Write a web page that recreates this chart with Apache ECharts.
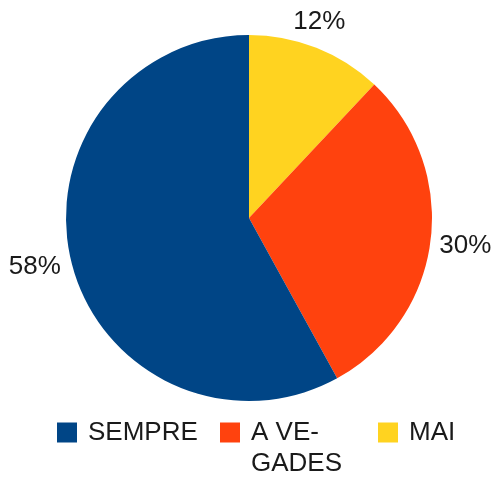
<!DOCTYPE html>
<html>
<head>
<meta charset="utf-8">
<script src="https://cdn.jsdelivr.net/npm/echarts@6/dist/echarts.min.js"></script>
<style>html,body{margin:0;padding:0;background:#fff;}#c{width:496px;height:477px;}</style>
</head>
<body>
<div id="c"></div>
<script>
const categories = ['MAI', 'A VEGADES', 'SEMPRE'];
const values = [12, 30, 58];
const legendOrder = ['SEMPRE', 'A VEGADES', 'MAI'];
const legendLabels = {'SEMPRE': 'SEMPRE', 'A VEGADES': ' \nA VE-\nGADES', 'MAI': 'MAI'};
const colors = ['#ffd320', '#ff420e', '#004586'];
const labelOffsets = {'MAI': [-10, 7], 'A VEGADES': [0, 1], 'SEMPRE': [-3, -5]};

const chart = echarts.init(document.getElementById('c'), null, {renderer: 'canvas'});
const data = categories.map((n, i) => ({name: n, value: values[i], itemStyle: {color: colors[i]}}));
const FONT = '"Liberation Sans", Arial, sans-serif';
const legendWidths = {'SEMPRE': 132, 'A VEGADES': 127, 'MAI': 60};
const option = {
  animation: false,
  backgroundColor: '#ffffff',
  legend: {
    orient: 'horizontal',
    left: 57,
    top: 386,
    padding: 0,
    itemGap: 0,
    itemWidth: 20,
    itemHeight: 20,
    icon: 'rect',
    selectedMode: false,
    textStyle: {fontFamily: FONT, fontSize: 26, color: '#1a1a1a', lineHeight: 31, padding: [0, 0, 0, 6]},
    data: legendOrder.map(n => ({name: n, textStyle: {width: legendWidths[n]}})),
    formatter: function (name) { return legendLabels[name]; }
  },
  series: [
    {
      type: 'pie',
      center: [249, 218],
      radius: [0, 183],
      startAngle: 90,
      clockwise: true,
      silent: true,
      label: {show: false},
      labelLine: {show: false},
      itemStyle: {borderWidth: 0},
      data: data
    },
    {
      type: 'pie',
      center: [249, 218],
      radius: [200, 230],
      startAngle: 90,
      clockwise: true,
      silent: true,
      itemStyle: {color: 'rgba(0,0,0,0)', borderWidth: 0},
      label: {show: true, position: 'inside', formatter: '{c}%', fontFamily: FONT, fontSize: 26, color: '#1a1a1a'},
      labelLine: {show: false},
      data: categories.map((n, i) => ({name: n, value: values[i], label: {offset: labelOffsets[n]}}))
    }
  ]
};
chart.setOption(option);
</script>
</body>
</html>
